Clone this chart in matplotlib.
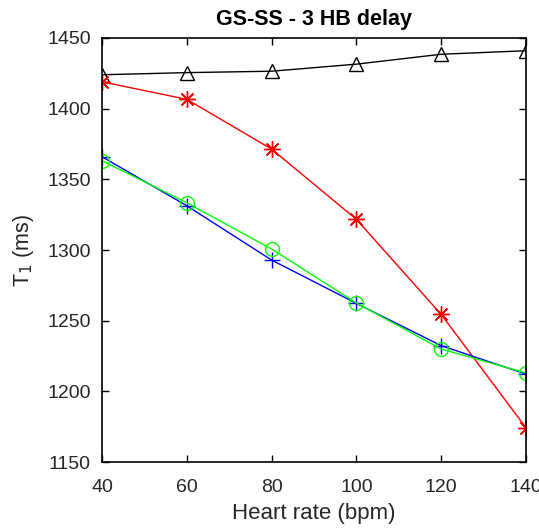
import matplotlib.pyplot as plt

plt.rcParams['font.family'] = ['Liberation Sans', 'DejaVu Sans']

heart_rate = [40, 60, 80, 100, 120, 140]
black_t1 = [1424, 1425.5, 1426.5, 1431.5, 1438.5, 1441]
red_t1 = [1419, 1406.6, 1371.4, 1321.7, 1254.4, 1174.2]
blue_t1 = [1366, 1331.3, 1292.9, 1262.2, 1232.3, 1212.2]
green_t1 = [1363.2, 1333.4, 1300.7, 1262.5, 1229.9, 1213]
xticks = [40, 60, 80, 100, 120, 140]
yticks = [1150, 1200, 1250, 1300, 1350, 1400, 1450]

fig = plt.figure(figsize=(5.39, 5.28), dpi=100)
ax = fig.add_axes([102 / 539, 1 - 462 / 528, (526 - 102) / 539, (462 - 38) / 528])

ax.plot(heart_rate, black_t1, '-', color='black', lw=1, marker='^', ms=10,
        mfc='none', mec='black', mew=1)
ax.plot(heart_rate, red_t1, '-', color='red', lw=1, marker=(8, 2, 0), ms=12,
        mec='red', mew=1)
ax.plot(heart_rate, blue_t1, '-', color='blue', lw=1, marker='+', ms=12,
        mec='blue', mew=1)
ax.plot(heart_rate, green_t1, '-', color='#00ff00', lw=1, marker='o', ms=10,
        mfc='none', mec='#00ff00', mew=1)

ax.set_xlim(40, 140)
ax.set_ylim(1150, 1450)
ax.set_xticks(xticks)
ax.set_yticks(yticks)
ax.tick_params(direction='in', top=True, right=True, length=5, width=1,
               labelsize=14, labelcolor='#262626')
ax.tick_params(axis='x', pad=12)
ax.tick_params(axis='y', pad=8)
for s in ax.spines.values():
    s.set_linewidth(1.2)

ax.set_title('GS-SS - 3 HB delay', fontsize=15.5, fontweight='bold', pad=9)
ax.set_xlabel('Heart rate (bpm)', fontsize=16, color='#262626', labelpad=5)
ax.set_ylabel('T$_1$ (ms)', fontsize=15.5, color='#262626', labelpad=8)

fig.savefig('out.png', dpi=100)
